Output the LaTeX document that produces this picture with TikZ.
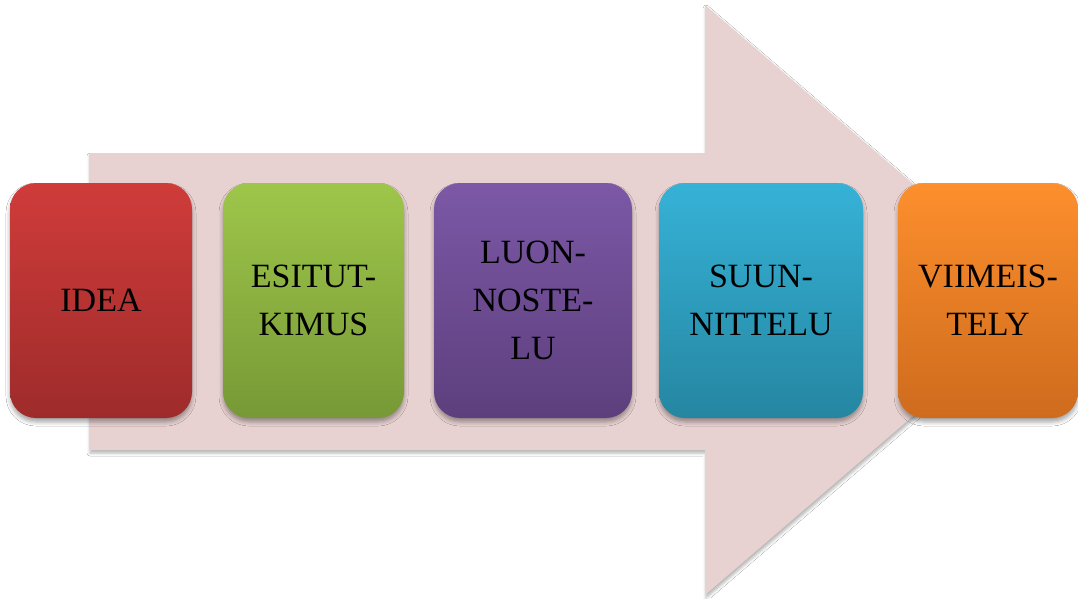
\documentclass[tikz,border=0pt]{standalone}
\usepackage{fontspec}
\setmainfont{Liberation Serif}
\usetikzlibrary{shadows.blur}
\definecolor{arrowfill}{HTML}{E8D1D1}
\definecolor{redtop}{HTML}{CF3C3A}
\definecolor{redbot}{HTML}{9E2B2B}
\definecolor{greentop}{HTML}{9EC64A}
\definecolor{greenbot}{HTML}{779936}
\definecolor{purptop}{HTML}{7C58A6}
\definecolor{purpbot}{HTML}{5D3F7D}
\definecolor{bluetop}{HTML}{36B2D7}
\definecolor{bluebot}{HTML}{2586A1}
\definecolor{orangetop}{HTML}{FD8F2D}
\definecolor{orangebot}{HTML}{CE6B1D}
\tikzset{
  stagebox/.style={rounded corners=26pt, inner sep=0pt, align=center,
    font=\fontsize{34}{48}\selectfont, text=black,
    blur shadow={shadow xshift=0pt, shadow yshift=-4pt, shadow blur radius=4pt, shadow opacity=35}},
}
\begin{document}
\begin{tikzpicture}[x=1pt,y=-1pt]
\useasboundingbox (0,0) rectangle (1078,598);
\fill[white] (0,0) rectangle (1078,598);
% big arrow
\path[fill=arrowfill, blur shadow={shadow xshift=1pt, shadow yshift=-3pt, shadow blur radius=3pt, shadow opacity=30}]
  (89,153) -- (705,153) -- (705,5) -- (1048,300) -- (705,595) -- (705,450) -- (89,450) -- cycle;
% stage boxes
\node[stagebox, top color=redtop, bottom color=redbot, minimum width=182pt, minimum height=235pt] (idea) at (101,300.5) {IDEA};
\node[stagebox, top color=greentop, bottom color=greenbot, minimum width=181pt, minimum height=235pt] (esi) at (313.5,300.5) {ESITUT-\\KIMUS};
\node[stagebox, top color=purptop, bottom color=purpbot, minimum width=198pt, minimum height=235pt] (luo) at (533,300.5) {LUON-\\NOSTE-\\LU};
\node[stagebox, top color=bluetop, bottom color=bluebot, minimum width=204pt, minimum height=235pt] (suu) at (761,300.5) {SUUN-\\NITTELU};
\node[stagebox, top color=orangetop, bottom color=orangebot, minimum width=180pt, minimum height=235pt] (vii) at (988,300.5) {VIIMEIS-\\TELY};
\end{tikzpicture}
\end{document}
